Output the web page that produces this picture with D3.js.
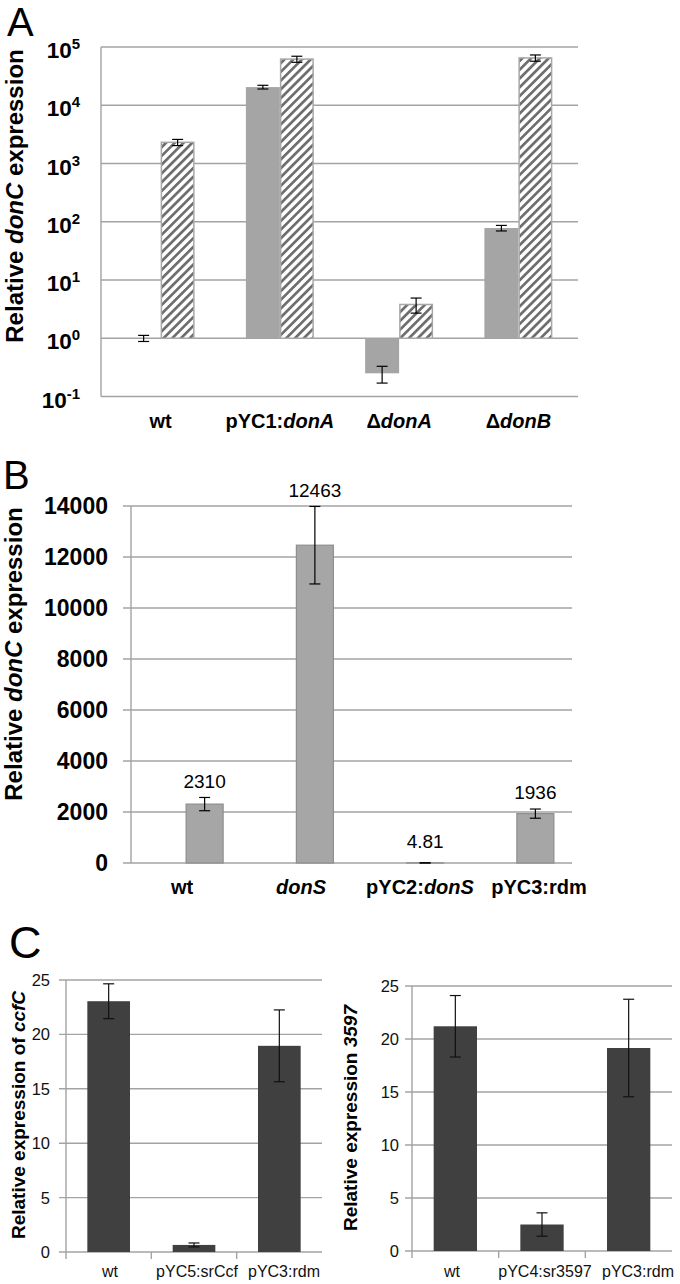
<!DOCTYPE html>
<html><head><meta charset="utf-8">
<script src="https://cdn.jsdelivr.net/npm/d3@7"></script>
<style>body{margin:0;background:#fff}svg{display:block}text{font-family:"Liberation Sans",Arial,sans-serif}</style>
</head><body>
<svg id="c" width="680" height="1284"></svg>
<script>
// ---- Panel A data (log scale) ----
const catsA = ["wt", "pYC1:donA", "ΔdonA", "ΔdonB"];
const grayA = [1, 20500, 0.25, 78];
const grayErrA = [0.12, 1500, 0.08, 8.5];
const hatchA = [2310, 62000, 3.8, 65000];
const hatchErrA = [280, 7400, 1.1, 8000];
const ticksA = [-1, 0, 1, 2, 3, 4, 5];
// ---- Panel B data ----
const catsB = ["wt", "donS", "pYC2:donS", "pYC3:rdm"];
const valsB = [2310, 12463, 4.81, 1936];
const errB = [260, 1520, 3, 180];
const ticksB = [0, 2000, 4000, 6000, 8000, 10000, 12000, 14000];
// ---- Panel C data ----
const catsC1 = ["wt", "pYC5:srCcf", "pYC3:rdm"];
const valsC1 = [23.05, 0.65, 18.95];
const errC1 = [1.6, 0.18, 3.3];
const catsC2 = ["wt", "pYC4:sr3597", "pYC3:rdm"];
const valsC2 = [21.2, 2.5, 19.15];
const errC2 = [2.9, 1.1, 4.6];
const ticksC = [0, 5, 10, 15, 20, 25];

const svg = d3.select("#c");
const gridCol = "#a3a3a3";

// hatch pattern
const defs = svg.append("defs");
const pat = defs.append("pattern").attr("id", "hatch").attr("patternUnits", "userSpaceOnUse")
  .attr("width", 6.2).attr("height", 6.2).attr("patternTransform", "rotate(45)");
pat.append("rect").attr("width", 6.2).attr("height", 6.2).attr("fill", "#fff");
pat.append("rect").attr("width", 2.7).attr("height", 6.2).attr("fill", "#6e6e6e");

function italicParts(sel, label, italicRe) {
  const m = label.match(italicRe);
  if (!m) { sel.text(label); return; }
  const idx = label.indexOf(m[0]);
  if (idx > 0) sel.append("tspan").text(label.slice(0, idx));
  sel.append("tspan").attr("font-style", "italic").text(m[0]);
  if (idx + m[0].length < label.length) sel.append("tspan").text(label.slice(idx + m[0].length));
}

function errBar(g, x, y1, y2, cap, col) {
  g.append("line").attr("x1", x).attr("x2", x).attr("y1", y1).attr("y2", y2).attr("stroke", col || "#000").attr("stroke-width", 1.2);
  [y1, y2].forEach(y => g.append("line").attr("x1", x - cap / 2).attr("x2", x + cap / 2).attr("y1", y).attr("y2", y).attr("stroke", col || "#000").attr("stroke-width", 1.2));
}

function yTitle(x, y, size, parts) {
  const t = svg.append("text").attr("transform", `translate(${x},${y}) rotate(-90)`)
    .attr("text-anchor", "middle").attr("font-size", size).attr("font-weight", "bold").attr("fill", "#000");
  parts.forEach(p => t.append("tspan").attr("font-style", p[1] ? "italic" : "normal").text(p[0]));
}

// ================= Panel A =================
{
  const g = svg.append("g");
  const x = d3.scaleBand().domain(catsA).range([101, 578]).paddingInner(0.43).paddingOuter(0.215);
  const xs = d3.scaleBand().domain([0, 1]).range([0, x.bandwidth()]);
  const y = d3.scaleLog().domain([0.1, 1e5]).range([396.5, 47]);
  ticksA.forEach(e => {
    const yy = y(Math.pow(10, e));
    g.append("line").attr("x1", 101).attr("x2", 578).attr("y1", yy).attr("y2", yy).attr("stroke", gridCol).attr("stroke-width", 1.4);
    const t = g.append("text").attr("x", 80).attr("y", yy + 11).attr("text-anchor", "end")
      .attr("font-size", 22.5).attr("font-weight", "bold");
    t.append("tspan").text("10");
    t.append("tspan").attr("font-size", 15).attr("dy", -9).text(String(e));
  });
  g.append("line").attr("x1", 101).attr("x2", 101).attr("y1", y(1e5)).attr("y2", y(0.1)).attr("stroke", gridCol).attr("stroke-width", 1.4);
  const base = y(1);
  catsA.forEach((c, i) => {
    const x0 = x(c) + xs(0), x1 = x(c) + xs(1), w = xs.bandwidth();
    const yv = y(grayA[i]);
    g.append("rect").attr("x", x0).attr("width", w).attr("y", Math.min(yv, base)).attr("height", Math.abs(base - yv))
      .attr("fill", "#a5a5a5");
    const yh = y(hatchA[i]);
    g.append("rect").attr("x", x1 + 0.75).attr("width", w - 1.5).attr("y", Math.min(yh, base)).attr("height", Math.abs(base - yh))
      .attr("fill", "url(#hatch)").attr("stroke", "#a8a8a8").attr("stroke-width", 1.5);
    errBar(g, x0 + w / 2, y(grayA[i] + grayErrA[i]), y(grayA[i] - grayErrA[i]), 11);
    errBar(g, x1 + w / 2, y(hatchA[i] + hatchErrA[i]), y(hatchA[i] - hatchErrA[i]), 11);
    const t = g.append("text").attr("x", x(c) + x.bandwidth() / 2).attr("y", 428).attr("text-anchor", "middle")
      .attr("font-size", 20).attr("font-weight", "bold");
    italicParts(t, c, /don[A-Z]/);
  });
  svg.append("text").attr("x", 7).attr("y", 36).attr("font-size", 40).text("A");
  yTitle(23, 196, 24, [["Relative ", 0], ["donC", 1], [" expression", 0]]);
}

// ================= Panel B =================
{
  const g = svg.append("g");
  const x = d3.scaleBand().domain(catsB).range([131, 572]);
  const xl = d3.scalePoint().domain(catsB).range([182, 539]);
  const y = d3.scaleLinear().domain([0, 14000]).range([863, 506]);
  ticksB.forEach(v => {
    g.append("line").attr("x1", 123).attr("x2", 572).attr("y1", y(v)).attr("y2", y(v)).attr("stroke", gridCol).attr("stroke-width", 1.4);
    g.append("text").attr("x", 108).attr("y", y(v) + 8).attr("text-anchor", "end")
      .attr("font-size", 23).attr("font-weight", "bold").text(v);
  });
  g.append("line").attr("x1", 131).attr("x2", 131).attr("y1", y(14000)).attr("y2", y(0)).attr("stroke", gridCol).attr("stroke-width", 1.4);
  const w = 37;
  catsB.forEach((c, i) => {
    const cx = x(c) + x.bandwidth() / 2;
    const yv = y(valsB[i]);
    g.append("rect").attr("x", cx).attr("width", w).attr("y", yv).attr("height", y(0) - yv)
      .attr("fill", "#a6a6a6").attr("stroke", "#8e8e8e").attr("stroke-width", 1.2);
    const ex = cx + w / 2;
    errBar(g, ex, y(valsB[i] + errB[i]), y(Math.max(0, valsB[i] - errB[i])), 11);
    const ly = Math.min(yv - 15, y(valsB[i] + errB[i]) - 9);
    g.append("text").attr("x", ex).attr("y", ly).attr("text-anchor", "middle").attr("font-size", 19).text(valsB[i]);
    const t = g.append("text").attr("x", xl(c)).attr("y", 894).attr("text-anchor", "middle")
      .attr("font-size", 20).attr("font-weight", "bold");
    italicParts(t, c, /donS/);
  });
  svg.append("text").attr("x", 3).attr("y", 489).attr("font-size", 40).text("B");
  yTitle(22, 654, 24, [["Relative ", 0], ["donC", 1], [" expression", 0]]);
}

// ================= Panel C =================
function panelC(cats, vals, errs, x0, x1, y0, y1, labX, labRange, titleX, titleY, titleParts) {
  const g = svg.append("g");
  const x = d3.scaleBand().domain(cats).range([x0, x1]).paddingInner(0.5).paddingOuter(0.25);
  const xl = d3.scalePoint().domain(cats).range(labRange);
  const y = d3.scaleLinear().domain([0, 25]).range([y0, y1]);
  ticksC.forEach(v => {
    g.append("line").attr("x1", x0 - 7).attr("x2", x1).attr("y1", y(v)).attr("y2", y(v)).attr("stroke", gridCol).attr("stroke-width", 1.4);
    g.append("text").attr("x", labX).attr("y", y(v) + 6).attr("text-anchor", "end").attr("font-size", 16.5).attr("fill", "#111").text(v);
  });
  g.append("line").attr("x1", x0).attr("x2", x0).attr("y1", y(25)).attr("y2", y(0)).attr("stroke", gridCol).attr("stroke-width", 1.4);
  const step = x.step();
  cats.forEach((c, i) => {
    const bx = x0 + i * step;
    g.append("line").attr("x1", bx).attr("x2", bx).attr("y1", y(0)).attr("y2", y(0) + 7).attr("stroke", gridCol).attr("stroke-width", 1.4);
    const yv = y(vals[i]);
    g.append("rect").attr("x", x(c)).attr("width", x.bandwidth()).attr("y", yv).attr("height", y(0) - yv).attr("fill", "#404040");
    errBar(g, x(c) + x.bandwidth() / 2, y(vals[i] + errs[i]), y(vals[i] - errs[i]), 11, "#111");
    g.append("text").attr("x", xl(c)).attr("y", 1277).attr("text-anchor", "middle")
      .attr("font-size", 16).attr("fill", "#111").text(c);
  });
  yTitle(titleX, titleY, 19, titleParts);
}
panelC(catsC1, valsC1, errC1, 66, 322, 1252, 980, 50, [110, 284], 25, 1115, [["Relative expression of ", 0], ["ccfC", 1]]);
panelC(catsC2, valsC2, errC2, 412, 672, 1251, 986, 399, [452, 638], 357, 1118, [["Relative expression ", 0], ["3597", 1]]);
svg.append("text").attr("x", 9).attr("y", 958).attr("font-size", 45).text("C");
</script>
</body></html>
